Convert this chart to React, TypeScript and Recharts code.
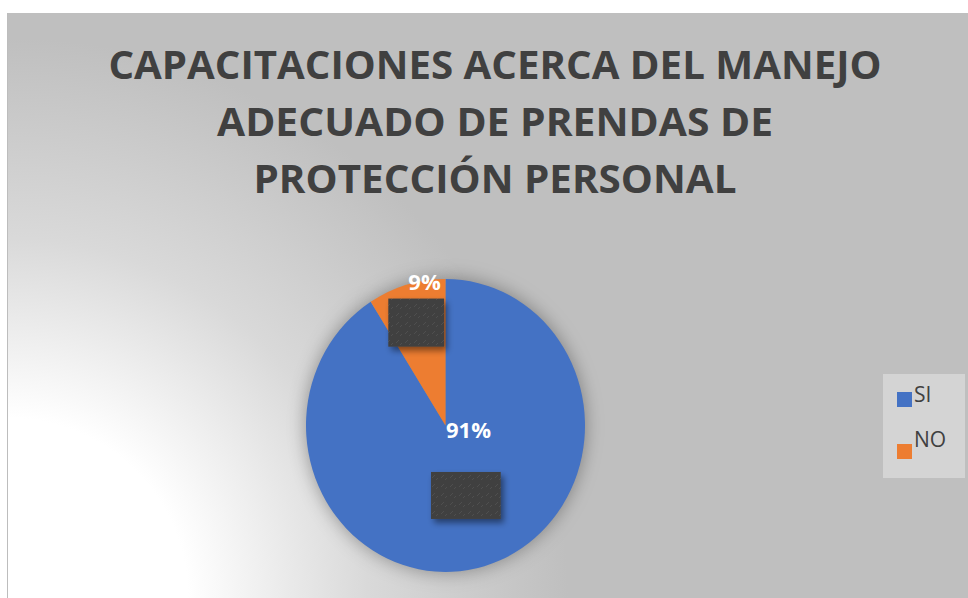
import { Cell, Legend, Pie, PieChart } from "recharts"

const categories = ["SI", "NO"]
const values = [91, 9]
const colors = ["#4472C4", "#ED7D31"]
const titleLines = ["CAPACITACIONES ACERCA DEL MANEJO", "ADECUADO DE PRENDAS DE", "PROTECCIÓN PERSONAL"]

const data = categories.map((name, i) => ({ name, value: values[i] }))

// label placement relative to the pie (fractions of the radius)
const labelPos = [
  { tx: 0.165, ty: 0.09, bx: -0.104, by: 0.333, bw: 0.5, bh: 0.337 },
  { tx: -0.15, ty: -0.97, bx: -0.41, by: -0.91, bw: 0.4, bh: 0.345 },
]

const titleWidths = [773, 556, 483]

// the reference pie is slightly taller than wide
const PIE_CX = 437.5
const PIE_CY = 412.5
const PIE_R = 139.5
const STRETCH_Y = 1.05

const renderLabel = (props: any) => {
  const { cx, cy, outerRadius: r, index, percent } = props
  const p = labelPos[index]
  return (
    <g>
      <rect x={cx + p.bx * r} y={cy + p.by * r} width={p.bw * r} height={p.bh * r}
        fill="url(#boxTex)" filter="url(#boxShadow)" />
      <text x={cx + p.tx * r} y={cy + p.ty * r} textAnchor="middle" fill="#ffffff"
        fontFamily="'Open Sans', sans-serif" fontWeight={700} fontSize={22}>
        {Math.round(percent * 100)}%
      </text>
    </g>
  )
}

const renderLegend = (props: any) => {
  const items = (props.payload || [])
    .filter((e: any) => colors.includes(e.color))
    .sort((a: any, b: any) => categories.indexOf(a.value) - categories.indexOf(b.value))
  return (
    <div style={{ width: 82, height: 104, background: "#d4d4d4", position: "relative",
      fontFamily: "'Open Sans', sans-serif", color: "#404040", fontSize: 21, lineHeight: "21px" }}>
      {items.map((e: any, i: number) => (
        <div key={e.value}>
          <div style={{ position: "absolute", left: 14, top: 18 + i * 52, width: 15, height: 15, background: e.color }} />
          <div style={{ position: "absolute", left: 31, top: 10 + i * 45 }}>{e.value}</div>
        </div>
      ))}
    </div>
  )
}

export default function App() {
  return (
    <div style={{ position: "absolute", left: 7, top: 13, width: 961, height: 585,
      borderLeft: "1px solid #bdbdbd", boxSizing: "border-box",
      background: "radial-gradient(circle at 0% 100%, #ffffff 0px, #ffffff 180px, #d9d9d9 360px, #bfbfbf 560px)" }}>
      <style>{`
        .stretch .recharts-pie-sector { transform: scaleY(${STRETCH_Y}); transform-origin: ${PIE_CX}px ${PIE_CY}px; }
      `}</style>
      <svg width={960} height={200} style={{ position: "absolute", left: 0, top: 0 }}>
        {titleLines.map((t, i) => (
          <text key={t} x={487} y={66 + i * 57} textAnchor="middle" fill="#404040"
            fontFamily="'Open Sans', sans-serif" fontWeight={700} fontSize={39}
            textLength={titleWidths[i]} lengthAdjust="spacingAndGlyphs">
            {t}
          </text>
        ))}
      </svg>
      <PieChart width={960} height={585} margin={{ top: 0, right: 0, bottom: 0, left: 0 }}
        style={{ position: "absolute", left: 0, top: 0 }}>
        <defs>
          <filter id="pieShadow" x="-30%" y="-30%" width="160%" height="160%">
            <feGaussianBlur stdDeviation="9" />
          </filter>
          <filter id="boxShadow" x="-30%" y="-30%" width="160%" height="160%">
            <feDropShadow dx="3" dy="4" stdDeviation="3" floodColor="#000" floodOpacity="0.45" />
          </filter>
          <pattern id="boxTex" width="9" height="9" patternUnits="userSpaceOnUse">
            <rect width="9" height="9" fill="#404040" />
            <path d="M1 6 L4 3 M5 8 L7 6" stroke="#505050" strokeWidth="1" />
          </pattern>
        </defs>
        <Pie className="stretch" data={data} dataKey="value" nameKey="name" cx={PIE_CX} cy={PIE_CY} outerRadius={PIE_R}
          startAngle={90} endAngle={-270} stroke="none" fillOpacity={0.35}
          filter="url(#pieShadow)" legendType="none" label={false} isAnimationActive={false}>
          {data.map((d) => <Cell key={d.name} fill="#000" />)}
        </Pie>
        <Pie className="stretch" data={data} dataKey="value" nameKey="name" cx={PIE_CX} cy={PIE_CY} outerRadius={PIE_R}
          startAngle={90} endAngle={-270} stroke="none" labelLine={false} label={renderLabel}
          isAnimationActive={false}>
          {data.map((d, i) => <Cell key={d.name} fill={colors[i]} />)}
        </Pie>
        <Legend layout="vertical" align="right" verticalAlign="middle" content={renderLegend}
          wrapperStyle={{ left: 875, top: 361, width: 82, height: 104 }} />
      </PieChart>
    </div>
  )
}
